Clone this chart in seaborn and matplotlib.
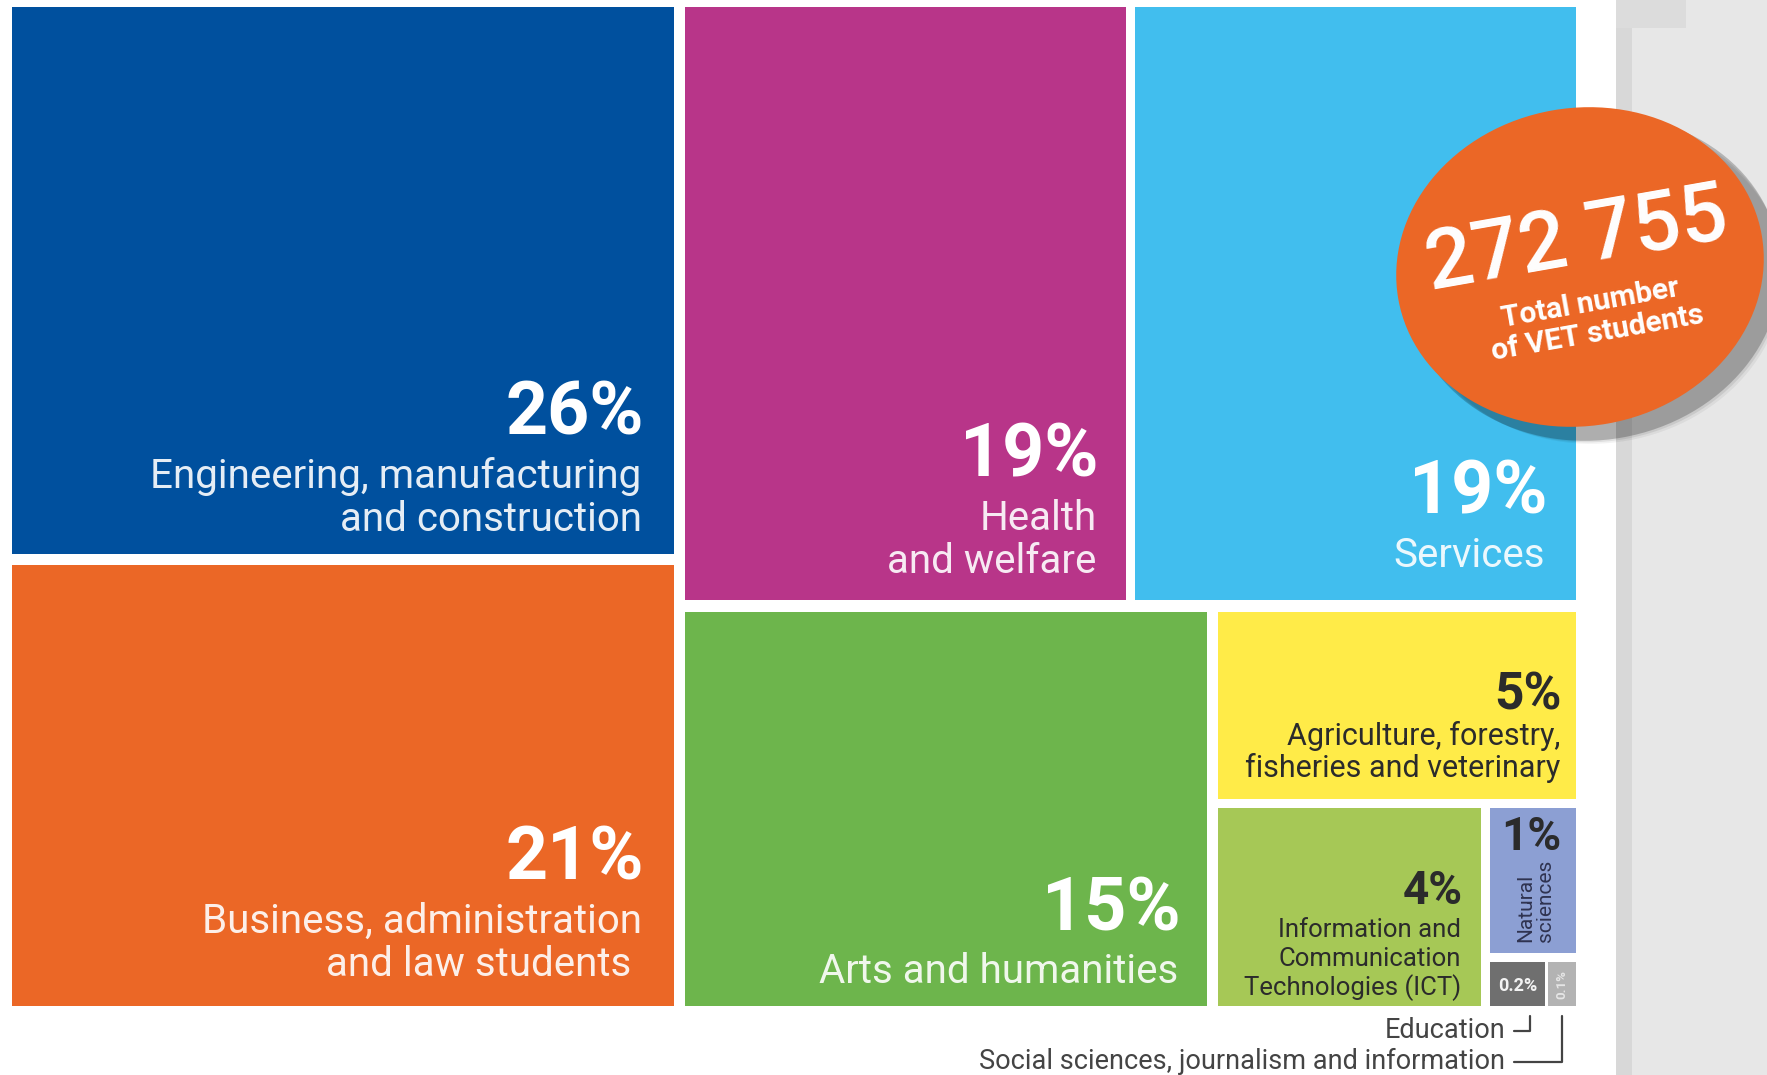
import numpy as np
import matplotlib
matplotlib.use("Agg")
import matplotlib.pyplot as plt
import seaborn as sns
from matplotlib.patches import Ellipse

# --- data ---
fields = ["Engineering, manufacturing and construction",
          "Business, administration and law students",
          "Health and welfare", "Services", "Arts and humanities",
          "Agriculture, forestry, fisheries and veterinary",
          "Information and Communication Technologies (ICT)",
          "Natural sciences", "Education",
          "Social sciences, journalism and information"]
shares = [26, 21, 19, 19, 15, 5, 4, 1, 0.2, 0.1]
pct_labels = ["26%", "21%", "19%", "19%", "15%", "5%", "4%", "1%", "0.2%", "0.1%"]
label_lines = [["Engineering, manufacturing", "and construction"],
               ["Business, administration", "and law students "],
               ["Health", "and welfare"],
               ["Services"],
               ["Arts and humanities"],
               ["Agriculture, forestry,", "fisheries and veterinary"],
               ["Information and", "Communication", "Technologies (ICT)"],
               ["Natural", "sciences"], [], []]
total_students = "272 755"

colors = ["#00509E", "#EB6726", "#B83589", "#41BEEE", "#6DB54C",
          "#FFEB48", "#A6C856", "#8C9FD3", "#6F6F6F", "#B3B3B3"]

# slice-and-dice tree: (direction, children, gap)
tree = ('h', [('v', [0, 1], 11),
              ('v', [('h', [2, 3], 9),
                     ('h', [4, ('v', [5, ('h', [6, ('v', [7, ('h', [8, 9], 3)], 9)], 9)], 9)], 11)],
               12)], 11)


def weight(node):
    if isinstance(node, int):
        return shares[node]
    return sum(weight(c) for c in node[1])


def layout(node, x0, y0, x1, y1, out):
    if isinstance(node, int):
        out[node] = (x0, y0, x1, y1)
        return
    direction, children, gap = node
    ws = [weight(c) for c in children]
    tot = sum(ws)
    span = (x1 - x0) if direction == 'h' else (y1 - y0)
    length = span - gap * (len(children) - 1)
    pos = x0 if direction == 'h' else y0
    for c, w in zip(children, ws):
        size = length * w / tot
        if direction == 'h':
            layout(c, pos, y0, pos + size, y1, out)
        else:
            layout(c, x0, pos, x1, pos + size, out)
        pos += size + gap


rects = {}
layout(tree, 12, 7, 1576, 1006, rects)

sns.set_theme(style="white")
plt.rcParams['font.family'] = ['Roboto', 'DejaVu Sans']

fig = plt.figure(figsize=(17.67, 10.75), dpi=100)
ax = fig.add_axes([0, 0, 1, 1])
ax.set_xlim(0, 1767)
ax.set_ylim(1075, 0)
ax.axis('off')

# grey page margin on the right
ax.bar(1616, 1075, width=151, bottom=0, align='edge', color="#e7e7e7", lw=0, zorder=0)
ax.bar(1616, 1075, width=16, bottom=0, align='edge', color="#d8d8d8", lw=0, zorder=0)
ax.bar(1616, 28, width=70, bottom=0, align='edge', color="#dcdcdc", lw=0, zorder=0)

# treemap cells
for i in range(len(shares)):
    x0, y0, x1, y1 = rects[i]
    ax.bar(x0, y1 - y0, width=x1 - x0, bottom=y0, align='edge',
           color=colors[i], linewidth=0, zorder=1)

# label styles: (pct size, label size, pad x, pad bottom, line height, pct gap, colour)
styles = {0: (53, 29, 32, 23, 43, 53, "white"),
          1: (53, 29, 32, 30, 43, 53, "white"),
          2: (53, 29, 29, 27, 43, 53, "white"),
          3: (53, 29, 31, 33, 43, 53, "white"),
          4: (53, 29, 28, 23, 43, 53, "white"),
          5: (37, 22, 16, 22, 32, 35, "#2b2b2b"),
          6: (33, 18.5, 20, 11, 29, 33, "#2b2b2b")}

for i, (ps, ls, px, pb, lh, pg, c) in styles.items():
    x0, y0, x1, y1 = rects[i]
    xr = x1 - px
    lines = label_lines[i]
    base = y1 - pb
    for k, line in enumerate(reversed(lines)):
        ax.text(xr, base - k * lh, line, ha='right', va='baseline',
                fontsize=ls, color=c, alpha=0.9 if c == "white" else 1, zorder=3)
    top_line = base - (len(lines) - 1) * lh
    ax.text(xr + 2, top_line - pg, pct_labels[i], ha='right', va='baseline',
            fontsize=ps, fontweight='bold', color=c, zorder=3)

# natural sciences
x0, y0, x1, y1 = rects[7]
ax.text(x1 - 15, y0 + 42, pct_labels[7], ha='right', va='baseline',
        fontsize=33, fontweight='bold', color="#2b2b2b", zorder=3)
ax.text((x0 + x1) / 2 + 2, y1 - 11, "\n".join(label_lines[7]), ha='center', va='bottom',
        rotation=90, multialignment='left', fontsize=15, color="#2f3350",
        linespacing=1.05, zorder=3)

# education / social sciences
x0, y0, x1, y1 = rects[8]
ax.text((x0 + x1) / 2, (y0 + y1) / 2 + 2, pct_labels[8], ha='center', va='center',
        fontsize=13, fontweight='bold', color="#f2f2f2", zorder=3)
x0s, y0s, x1s, y1s = rects[9]
ax.text((x0s + x1s) / 2, (y0s + y1s) / 2, pct_labels[9], ha='center', va='center',
        rotation=90, fontsize=9.5, fontweight='bold', color="#e6e6e6", zorder=3)

edu_x = x1 - 0.28 * (x1 - x0)
soc_x = (x0s + x1s) / 2
ax.plot([1514, edu_x, edu_x], [1031, 1031, 1016], color="#444444", lw=1.6, zorder=3)
ax.plot([1514, soc_x, soc_x], [1062, 1062, 1016], color="#444444", lw=1.6, zorder=3)
ax.text(1505, 1038, fields[8], ha='right', va='baseline', fontsize=19.5, color="#444444")
ax.text(1505, 1069, fields[9], ha='right', va='baseline', fontsize=19.5, color="#444444")

# total badge with shadow
cx, cy = 1580, 267
for d, a in [(20, 0.05), (17, 0.08), (14, 0.22)]:
    ax.add_patch(Ellipse((cx + d, cy + d - 3), 369 + (20 - d), 318 + (20 - d), angle=-10,
                         color="black", alpha=a, lw=0, zorder=4))
ax.add_patch(Ellipse((cx, cy), 369, 318, angle=-10, color="#EB6726", lw=0, zorder=5))
ax.text(1577, 241, total_students, ha='center', va='center', rotation=10,
        fontsize=60, fontweight='medium', color="white", zorder=6)
ax.text(1590, 303, "Total number", ha='center', va='center', rotation=10,
        fontsize=21.5, fontweight='bold', color="white", zorder=6)
ax.text(1598, 333, "of VET students", ha='center', va='center', rotation=10,
        fontsize=21.5, fontweight='bold', color="white", zorder=6)

fig.savefig("out.png", dpi=100)
